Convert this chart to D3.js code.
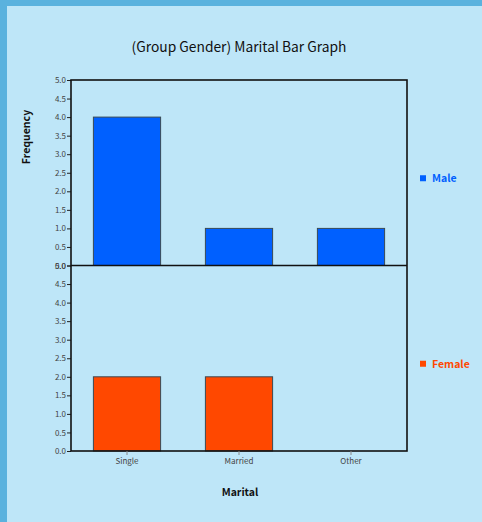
<!DOCTYPE html>
<html><head><meta charset="utf-8">
<script src="https://cdn.jsdelivr.net/npm/d3@7"></script>
<style>
html,body{margin:0;padding:0;background:#5ab2de;}
svg{display:block;}
</style></head>
<body>
<script>
const categories = ["Single", "Married", "Other"];
const groups = ["Male", "Female"];
const maleValues = [4, 1, 1];
const femaleValues = [2, 2, 0];
const yTicks = [0, 0.5, 1, 1.5, 2, 2.5, 3, 3.5, 4, 4.5, 5];
const groupColors = ["#0060ff", "#ff4800"];
const title = "(Group Gender) Marital Bar Graph";
const xLabel = "Marital";
const yLabel = "Frequency";

const W = 482, H = 522;
const svg = d3.select("body").append("svg").attr("width", W).attr("height", H);
const font = "'Noto Sans CJK KR', 'Noto Sans', sans-serif";

svg.append("rect").attr("x", 7).attr("y", 6).attr("width", W - 7).attr("height", H - 6).attr("fill", "#bee6f8");

const pLeft = 71, pRight = 407, pTop0 = 80, pBottom = 451;
const panelH = (pBottom - pTop0) / 2;
const x = d3.scaleBand().domain(categories).range([pLeft, pRight]).paddingInner(0.4).paddingOuter(0.2);

svg.append("text").attr("x", 239).attr("y", 52).attr("text-anchor", "middle")
  .attr("font-family", font).attr("font-size", 13.8).attr("fill", "#111").text(title);

const series = [maleValues, femaleValues];
series.forEach((vals, gi) => {
  const pTop = pTop0 + gi * panelH, pBot = pTop + panelH;
  const y = d3.scaleLinear().domain([0, 5]).range([pBot, pTop]);
  svg.append("g").selectAll("rect").data(vals.map((v, i) => ({c: categories[i], v})).filter(d => d.v > 0))
    .enter().append("rect")
    .attr("x", d => x(d.c)).attr("y", d => y(d.v))
    .attr("width", x.bandwidth()).attr("height", d => y(0) - y(d.v))
    .attr("fill", groupColors[gi]).attr("stroke", "#3a4a55").attr("stroke-width", 1);
  const ax = svg.append("g").attr("transform", `translate(${pLeft},0)`)
    .call(d3.axisLeft(y).tickValues(yTicks).tickFormat(d3.format(".1f")).tickSize(4).tickSizeOuter(0));
  ax.select(".domain").remove();
  ax.selectAll("line").attr("stroke", "#222");
  ax.selectAll("text").attr("font-family", font).attr("font-size", 8).attr("fill", "#444").attr("x", -5);
  const ly = pTop + panelH * 0.535;
  svg.append("rect").attr("x", 420).attr("y", ly - 4).attr("width", 6).attr("height", 6).attr("fill", groupColors[gi]);
  svg.append("text").attr("x", 432).attr("y", ly + 3).attr("font-family", font).attr("font-size", 10.5)
    .attr("font-weight", "bold").attr("fill", groupColors[gi]).text(groups[gi]);
});

svg.append("rect").attr("x", pLeft).attr("y", pTop0).attr("width", pRight - pLeft).attr("height", pBottom - pTop0)
  .attr("fill", "none").attr("stroke", "#111").attr("stroke-width", 1.6);
svg.append("line").attr("x1", pLeft).attr("x2", pRight).attr("y1", pTop0 + panelH).attr("y2", pTop0 + panelH)
  .attr("stroke", "#111").attr("stroke-width", 1.6);

const xa = svg.append("g").attr("transform", `translate(0,${pBottom})`)
  .call(d3.axisBottom(x).tickSize(4).tickSizeOuter(0));
xa.select(".domain").remove();
xa.selectAll("line").attr("stroke", "#888");
xa.selectAll("text").attr("font-family", font).attr("font-size", 8).attr("fill", "#444").attr("y", 7);

svg.append("text").attr("x", 240).attr("y", 496).attr("text-anchor", "middle")
  .attr("font-family", font).attr("font-size", 10.5).attr("font-weight", "bold").attr("fill", "#111").text(xLabel);
svg.append("text").attr("transform", "translate(30,137) rotate(-90)").attr("text-anchor", "middle")
  .attr("font-family", font).attr("font-size", 10.5).attr("font-weight", "bold").attr("fill", "#111").text(yLabel);
</script>
</body></html>
